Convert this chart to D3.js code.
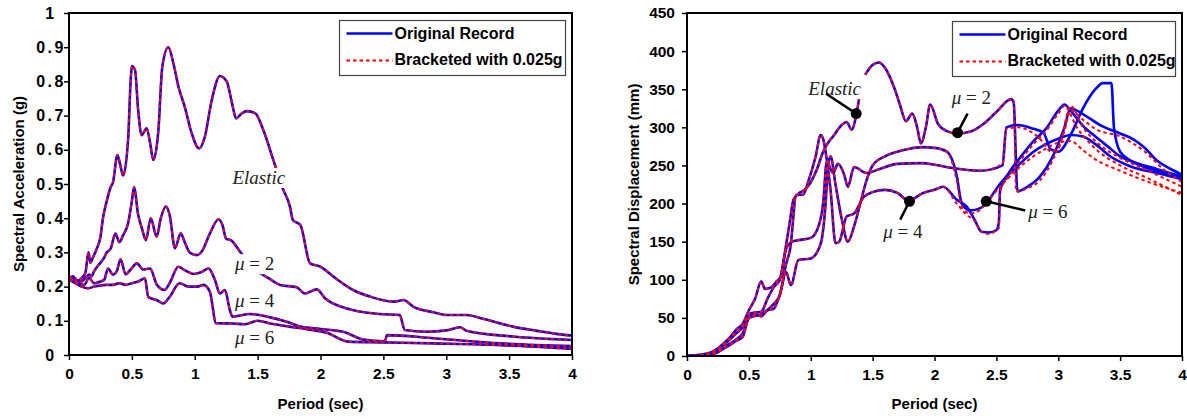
<!DOCTYPE html>
<html><head><meta charset="utf-8">
<script src="https://cdn.jsdelivr.net/npm/d3@7"></script>
<style>
body{margin:0;background:#fff;}
svg{display:block;}
</style></head><body>
<svg id="c" width="1187" height="419"></svg>
<script>
// ---------------- DATA ----------------
const periodTicks = [0,0.5,1,1.5,2,2.5,3,3.5,4];
const accTicks = [0,0.1,0.2,0.3,0.4,0.5,0.6,0.7,0.8,0.9,1];
const dispTicks = [0,50,100,150,200,250,300,350,400,450];
const legendLabels = ["Original Record","Bracketed with 0.025g"];

// Spectral acceleration (g) vs period (s) – left panel
const accElastic = [[0,0.222],[0.03,0.225],[0.06,0.215],[0.1,0.225],[0.13,0.24],[0.155,0.30],[0.17,0.27],[0.19,0.285],[0.22,0.31],[0.25,0.345],[0.27,0.40],[0.3,0.45],[0.33,0.49],[0.35,0.505],[0.385,0.585],[0.405,0.56],[0.43,0.525],[0.47,0.63],[0.49,0.80],[0.50,0.845],[0.525,0.833],[0.55,0.716],[0.578,0.643],[0.618,0.663],[0.645,0.62],[0.67,0.57],[0.71,0.653],[0.742,0.843],[0.79,0.90],[0.83,0.853],[0.87,0.785],[0.92,0.726],[0.976,0.648],[1.034,0.604],[1.08,0.638],[1.135,0.745],[1.20,0.816],[1.254,0.80],[1.30,0.73],[1.328,0.692],[1.37,0.705],[1.413,0.713],[1.48,0.707],[1.545,0.658],[1.625,0.57],[1.70,0.487],[1.757,0.434],[1.78,0.395],[1.84,0.38],[1.917,0.268],[2.0,0.258],[2.1,0.23],[2.26,0.19],[2.4,0.17],[2.58,0.156],[2.62,0.158],[2.66,0.161],[2.74,0.141],[2.9,0.125],[3.0,0.117],[3.16,0.117],[3.3,0.105],[3.53,0.083],[3.7,0.072],[3.96,0.058],[4.0,0.057]];
const accMu2 = [[0,0.224],[0.03,0.23],[0.06,0.22],[0.1,0.215],[0.13,0.225],[0.16,0.235],[0.18,0.23],[0.2,0.245],[0.25,0.27],[0.28,0.285],[0.3,0.30],[0.33,0.31],[0.37,0.355],[0.40,0.33],[0.43,0.35],[0.47,0.385],[0.50,0.45],[0.517,0.49],[0.55,0.41],[0.58,0.37],[0.612,0.336],[0.65,0.40],[0.697,0.346],[0.73,0.40],[0.77,0.434],[0.80,0.41],[0.843,0.312],[0.888,0.356],[0.92,0.33],[0.96,0.30],[1.015,0.292],[1.06,0.305],[1.12,0.355],[1.19,0.397],[1.22,0.38],[1.25,0.34],[1.29,0.335],[1.355,0.305],[1.45,0.26],[1.59,0.224],[1.68,0.205],[1.81,0.198],[1.877,0.18],[1.97,0.192],[2.036,0.166],[2.21,0.136],[2.47,0.12],[2.63,0.117],[2.67,0.073],[2.84,0.068],[3.0,0.072],[3.11,0.081],[3.16,0.071],[3.53,0.054],[4.0,0.044]];
const accMu4 = [[0,0.22],[0.04,0.215],[0.08,0.21],[0.12,0.205],[0.16,0.225],[0.2,0.21],[0.25,0.215],[0.28,0.22],[0.31,0.253],[0.35,0.235],[0.38,0.245],[0.41,0.28],[0.45,0.236],[0.49,0.25],[0.54,0.268],[0.59,0.25],[0.644,0.253],[0.70,0.205],[0.76,0.19],[0.80,0.21],[0.87,0.258],[0.92,0.248],[0.99,0.237],[1.05,0.242],[1.11,0.253],[1.16,0.22],[1.20,0.18],[1.24,0.19],[1.28,0.13],[1.30,0.112],[1.44,0.12],[1.6,0.11],[1.75,0.095],[1.84,0.083],[2.0,0.076],[2.18,0.068],[2.34,0.045],[2.51,0.04],[2.53,0.058],[2.9,0.049],[3.43,0.034],[4.0,0.026]];
const accMu6 = [[0,0.22],[0.05,0.21],[0.1,0.2],[0.15,0.195],[0.2,0.2],[0.3,0.205],[0.35,0.205],[0.4,0.21],[0.45,0.205],[0.5,0.21],[0.55,0.215],[0.604,0.224],[0.63,0.17],[0.7,0.16],[0.75,0.151],[0.8,0.17],[0.88,0.21],[0.95,0.2],[1.02,0.2],[1.07,0.205],[1.12,0.185],[1.17,0.093],[1.3,0.092],[1.4,0.09],[1.5,0.10],[1.6,0.092],[1.75,0.083],[1.9,0.075],[2.05,0.065],[2.22,0.039],[2.5,0.037],[2.9,0.034],[3.43,0.029],[4.0,0.018]];

// Spectral displacement (mm) vs period (s) – right panel, original record
const dispElastic = [[0,0],[0.1,0.5],[0.15,1],[0.2,5],[0.25,10],[0.3,17],[0.35,25],[0.4,35],[0.45,42],[0.5,60],[0.55,75],[0.6,98],[0.63,88],[0.68,90],[0.72,97],[0.76,105],[0.8,145],[0.83,175],[0.86,205],[0.9,213],[0.95,218],[1.0,228],[1.05,245],[1.1,268],[1.15,282],[1.18,288],[1.25,303],[1.29,307],[1.33,297],[1.37,318],[1.39,337],null,[1.44,369],[1.5,382],[1.55,385],[1.6,378],[1.67,354],[1.72,330],[1.77,308],[1.82,318],[1.86,300],[1.89,279],[1.93,300],[1.965,330],[2.03,304],[2.1,295],[2.18,292],[2.3,295],[2.4,305],[2.5,320],[2.62,337],[2.64,332],[2.67,216],[2.75,222],[2.85,235],[2.95,260],[3.05,300],[3.1,325],[3.15,322],[3.25,312],[3.35,302],[3.5,292],[3.6,285],[3.7,273],[3.8,256],[3.9,246],[4.0,238]];
const dispMu6 = [[0,0],[0.15,0],[0.2,3],[0.3,12],[0.4,22],[0.45,30],[0.5,50],[0.55,55],[0.6,52],[0.65,60],[0.7,62],[0.75,80],[0.8,110],[0.84,93],[0.9,126],[1.0,128],[1.08,147],[1.12,200],[1.14,250],[1.16,262],[1.2,225],[1.25,180],[1.3,150],[1.35,170],[1.4,200],[1.45,230],[1.5,250],[1.6,262],[1.7,268],[1.8,272],[1.9,274],[2.0,273],[2.1,268],[2.18,236],[2.22,200],[2.29,191],[2.37,194],[2.42,201],[2.53,226],[2.67,249],[2.8,268],[2.9,278],[3.0,285],[3.1,290],[3.2,288],[3.3,278],[3.42,262],[3.58,249],[3.8,240],[4.0,232]];
const dispMid = [[0,0],[0.2,5],[0.3,15],[0.4,30],[0.45,38],[0.5,55],[0.55,57],[0.6,58],[0.65,75],[0.7,90],[0.75,100],[0.8,140],[0.85,150],[0.9,152],[1.0,155],[1.05,165],[1.1,200],[1.13,255],[1.18,240],[1.22,252],[1.27,238],[1.3,222],[1.35,248],[1.45,240],[1.55,245],[1.7,252],[1.9,253],[2.0,251],[2.13,247],[2.37,243],[2.55,250],[2.58,300],[2.67,303],[2.8,298],[2.88,293],[2.94,271],[3.0,268],[3.1,290],[3.2,325],[3.3,350],[3.36,358],[3.43,358],[3.45,300],[3.5,268],[3.6,255],[3.8,243],[4.0,236]];
const dispMu4 = [[0,0],[0.2,2],[0.3,10],[0.4,20],[0.45,25],[0.5,50],[0.6,55],[0.7,68],[0.75,80],[0.8,120],[0.835,142],[0.883,211],[0.94,212],[0.98,229],[1.04,262],[1.08,290],[1.1,285],[1.13,257],[1.16,218],[1.2,148],[1.23,150],[1.29,183],[1.35,187],[1.43,209],[1.5,215],[1.6,218],[1.7,214],[1.79,204],[1.91,214],[2.0,218],[2.07,222],[2.18,205],[2.26,196],[2.32,180],[2.38,163],[2.44,162],[2.5,165],[2.52,175],[2.53,218],[2.6,240],[2.7,262],[2.8,282],[2.9,298],[3.0,322],[3.05,330],[3.1,322],[3.2,302],[3.3,288],[3.4,275],[3.5,262],[3.6,255],[3.8,245],[4.0,235]];
// bracketed record – right panel (differs in the long-period tail)
const dispElasticB = [[0,0],[0.1,0.5],[0.15,1],[0.2,5],[0.25,10],[0.3,17],[0.35,25],[0.4,35],[0.45,42],[0.5,60],[0.55,75],[0.6,98],[0.63,88],[0.68,90],[0.72,97],[0.76,105],[0.8,145],[0.83,175],[0.86,205],[0.9,213],[0.95,218],[1.0,228],[1.05,245],[1.1,268],[1.15,282],[1.18,288],[1.25,303],[1.29,307],[1.33,297],[1.37,318],[1.39,337],null,[1.44,369],[1.5,382],[1.55,385],[1.6,378],[1.67,354],[1.72,330],[1.77,308],[1.82,318],[1.86,300],[1.89,279],[1.93,300],[1.965,330],[2.03,304],[2.1,295],[2.18,292],[2.3,295],[2.4,305],[2.5,320],[2.62,337],[2.64,335],[2.66,216],[2.75,220],[2.85,230],[2.95,255],[3.05,295],[3.1,322],[3.2,310],[3.3,298],[3.5,288],[3.7,268],[3.85,245],[4.0,228]];
const dispMu6B = [[0,0],[0.15,0],[0.2,3],[0.3,12],[0.4,22],[0.45,30],[0.5,50],[0.55,55],[0.6,52],[0.65,60],[0.7,62],[0.75,80],[0.8,110],[0.84,93],[0.9,126],[1.0,128],[1.08,147],[1.12,200],[1.14,250],[1.16,262],[1.2,225],[1.25,180],[1.3,150],[1.35,170],[1.4,200],[1.45,230],[1.5,250],[1.6,262],[1.7,268],[1.8,272],[1.9,274],[2.0,273],[2.1,268],[2.18,230],[2.22,196],[2.29,187],[2.37,192],[2.42,201],[2.53,222],[2.67,245],[2.8,262],[2.9,272],[3.0,280],[3.1,282],[3.2,270],[3.3,258],[3.5,243],[3.7,230],[4.0,214]];
const dispMidB = [[0,0],[0.2,5],[0.3,15],[0.4,30],[0.45,38],[0.5,55],[0.55,57],[0.6,58],[0.65,75],[0.7,90],[0.75,100],[0.8,140],[0.85,150],[0.9,152],[1.0,155],[1.05,165],[1.1,200],[1.13,255],[1.18,240],[1.22,252],[1.27,238],[1.3,222],[1.35,248],[1.45,240],[1.55,245],[1.7,252],[1.9,253],[2.0,251],[2.13,247],[2.37,243],[2.55,252],[2.58,298],[2.67,300],[2.8,292],[2.88,280],[2.94,268],[3.0,272],[3.1,328],[3.2,300],[3.3,282],[3.5,260],[3.7,245],[4.0,222]];
const dispMu4B = [[0,0],[0.2,2],[0.3,10],[0.4,20],[0.45,25],[0.5,50],[0.6,55],[0.7,68],[0.75,80],[0.8,120],[0.835,142],[0.883,211],[0.94,212],[0.98,229],[1.04,262],[1.08,290],[1.1,285],[1.13,257],[1.16,218],[1.2,148],[1.23,150],[1.29,183],[1.35,187],[1.43,209],[1.5,215],[1.6,218],[1.7,214],[1.79,204],[1.91,214],[2.0,218],[2.07,222],[2.18,200],[2.26,185],[2.32,178],[2.38,163],[2.44,160],[2.5,165],[2.52,168],[2.53,215],[2.6,236],[2.7,258],[2.8,278],[2.9,295],[3.0,318],[3.05,328],[3.15,300],[3.3,272],[3.5,250],[3.7,235],[4.0,211]];

// annotations, in data units: [label, textT, textY, lineFromT, lineFromY, dotT, dotY]
const accLabels = [["Elastic",1.30,0.50],["μ = 2",1.32,0.248],["μ = 4",1.32,0.14],["μ = 6",1.32,0.032]];
const dispLabels = [["Elastic",0.98,343,1.125,344,1.367,318],["μ = 2",2.14,330,2.267,318,2.186,293],["μ = 4",1.586,155,1.723,179,1.798,203],["μ = 6",2.757,181,2.733,191,2.418,203]];

// ---------------- DRAW ----------------
const svg = d3.select("#c");
const FONT = "'Liberation Sans', Arial, sans-serif";
const SERIF = "'Liberation Serif', 'Times New Roman', serif";

function panel(o){
  const g = svg.append("g");
  const x = d3.scaleLinear().domain([0,4]).range([o.x0,o.x1]);
  const y = d3.scaleLinear().domain(o.yDomain).range([o.y1,o.y0]);
  const id = "clip"+o.key;
  svg.append("clipPath").attr("id",id).append("rect")
    .attr("x",o.x0).attr("y",o.y0-2).attr("width",o.x1-o.x0).attr("height",o.y1-o.y0+2);

  // axes
  const ax = g.append("g").attr("transform",`translate(0,${o.y1})`)
    .call(d3.axisBottom(x).tickValues(periodTicks).tickSize(5).tickPadding(6).tickFormat(d3.format("~g")));
  const ay = g.append("g").attr("transform",`translate(${o.x0},0)`)
    .call(d3.axisLeft(y).tickValues(o.yTicks).tickSize(5).tickPadding(o.yPad).tickFormat(d3.format("~g")));
  [ax,ay].forEach(a=>{
    a.select(".domain").remove();
    a.selectAll(".tick line").attr("stroke","#000").attr("stroke-width",1.5);
    a.selectAll(".tick text").attr("font-family",FONT).attr("font-weight","bold").attr("font-size",15.5).attr("fill","#000");
  });
  ax.selectAll(".tick text").attr("dy","0.85em");
  ay.selectAll(".tick text").attr("font-size",o.yFont).attr("text-anchor",o.yAnchor).attr("letter-spacing",o.yLS);

  const line = d3.line().defined(d=>d!=null).x(d=>x(d[0])).y(d=>y(d[1])).curve(d3.curveMonotoneX);
  const cg = g.append("g").attr("clip-path",`url(#${id})`);
  o.blue.forEach(s=>{
    cg.append("path").attr("d",line(s)).attr("fill","none").attr("stroke","#0000ff").attr("stroke-width",2.6).attr("stroke-linejoin","round");
  });
  o.red.forEach(s=>{
    cg.append("path").attr("d",line(s)).attr("fill","none").attr("stroke","#ff0000").attr("stroke-width",2).attr("stroke-dasharray","3.5,3");
  });

  // frame
  g.append("rect").attr("x",o.x0).attr("y",o.y0).attr("width",o.x1-o.x0).attr("height",o.y1-o.y0)
    .attr("fill","none").attr("stroke","#000").attr("stroke-width",2);

  // titles
  g.append("text").attr("x",(o.x0+o.x1)/2).attr("y",409).attr("text-anchor","middle")
    .attr("font-family",FONT).attr("font-weight","bold").attr("font-size",15).text("Period (sec)");
  g.append("text").attr("transform",`translate(${o.ytx},${(o.y0+o.y1)/2}) rotate(-90)`).attr("text-anchor","middle")
    .attr("font-family",FONT).attr("font-weight","bold").attr("font-size",15).text(o.yTitle);

  // legend
  const L = g.append("g");
  L.append("rect").attr("x",o.lx).attr("y",o.ly).attr("width",o.lw).attr("height",55)
    .attr("fill","#fff").attr("stroke","#444").attr("stroke-width",1.2);
  L.append("line").attr("x1",o.lx+7).attr("x2",o.lx+53).attr("y1",o.ly+13).attr("y2",o.ly+13).attr("stroke","#0000ff").attr("stroke-width",2.6);
  L.append("line").attr("x1",o.lx+7).attr("x2",o.lx+53).attr("y1",o.ly+40).attr("y2",o.ly+40).attr("stroke","#ff0000").attr("stroke-width",2).attr("stroke-dasharray","3.5,3");
  legendLabels.forEach((t,i)=>{
    L.append("text").attr("x",o.lx+55).attr("y",o.ly+18.5+i*25.5).attr("font-family",FONT).attr("font-weight","bold").attr("font-size",16).text(t);
  });

  // annotations
  o.labels.forEach(a=>{
    const [txt,tx,ty] = a;
    const t = g.append("text").attr("x",x(tx)).attr("y",y(ty)).attr("font-family",SERIF).attr("font-style","italic").attr("font-size",19).attr("fill","#222");
    if(txt==="Elastic"){ t.text(txt); }
    else {
      const parts = txt.split(" = ");
      t.append("tspan").text(parts[0]);
      t.append("tspan").attr("font-style","normal").text(" = "+parts[1]);
    }
    if(o.bgLabels){
      const bb = t.node().getBBox();
      g.insert("rect", function(){return t.node();}).attr("x",bb.x-2).attr("y",bb.y+1).attr("width",bb.width+4).attr("height",bb.height-1).attr("fill","#fff");
    }
    if(a.length>3){
      g.append("line").attr("x1",x(a[3])).attr("y1",y(a[4])).attr("x2",x(a[5])).attr("y2",y(a[6])).attr("stroke","#000").attr("stroke-width",2.5);
      g.append("circle").attr("cx",x(a[5])).attr("cy",y(a[6])).attr("r",5.5).attr("fill","#000");
    }
  });
}

panel({key:"L", x0:69, x1:572, y0:13, y1:355, yDomain:[0,1], yTicks:accTicks, yTitle:"Spectral Acceleration (g)", ytx:24,
  yPad:13, yFont:16, yAnchor:"middle", yLS:"2.5px",
  blue:[accElastic,accMu2,accMu4,accMu6], red:[accElastic,accMu2,accMu4,accMu6],
  lx:339.5, ly:20.5, lw:226, labels:accLabels, bgLabels:true});
panel({key:"R", x0:687, x1:1182, y0:13, y1:356, yDomain:[0,450], yTicks:dispTicks, yTitle:"Spectral Displacement (mm)", ytx:639,
  yPad:7, yFont:15.5, yAnchor:"end", yLS:"0px",
  blue:[dispElastic,dispMu6,dispMid,dispMu4], red:[dispElasticB,dispMu6B,dispMidB,dispMu4B],
  lx:952.5, ly:21.5, lw:223, labels:dispLabels, bgLabels:false});
</script>
</body></html>
